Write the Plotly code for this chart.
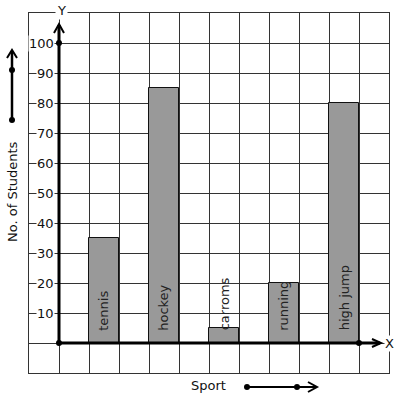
import plotly.graph_objects as go

sports = ["tennis", "hockey", "carroms", "running", "high jump"]
students = [35, 85, 5, 20, 80]
y_ticks = [10, 20, 30, 40, 50, 60, 70, 80, 90, 100]

FONT = "DejaVu Sans"
W, H = 397, 399
L, R, T, B = 29, 8, 13, 26
PW, PH = W - L - R, H - T - B


def px(x):
    return (x - L) / PW


def py(y):
    return (H - B - y) / PH


xpos = [1.5 + 2 * i for i in range(len(sports))]

fig = go.Figure()
fig.add_trace(go.Bar(
    x=xpos, y=students, width=1,
    marker=dict(color="#999999", line=dict(color="#111111", width=1)),
    hoverinfo="skip", showlegend=False,
))

ann = []
for x, s in zip(xpos, sports):
    ann.append(dict(x=x, y=3.4, xref="x", yref="y", text=s, showarrow=False,
                    textangle=-90, xanchor="center", yanchor="bottom",
                    font=dict(family=FONT, size=13, color="#222222")))
for v in y_ticks:
    ann.append(dict(x=0, y=v, xref="x", yref="y", text=str(v), showarrow=False,
                    xanchor="right", yanchor="middle", xshift=-4,
                    bgcolor="white", borderpad=0,
                    font=dict(family=FONT, size=13, color="#111111")))
ann.append(dict(x=px(61), y=py(10), xref="paper", yref="paper", text="Y",
                showarrow=False, bgcolor="white", borderpad=1,
                xanchor="center", yanchor="middle",
                font=dict(family=FONT, size=13, color="#111111")))
ann.append(dict(x=px(389), y=0, xref="paper", yref="y", text="X",
                showarrow=False, bgcolor="white", borderpad=0,
                xanchor="center", yanchor="middle",
                font=dict(family=FONT, size=13, color="#111111")))
ann.append(dict(x=px(12), y=py(192), xref="paper", yref="paper", text="No. of Students",
                showarrow=False, textangle=-90, xanchor="center", yanchor="middle",
                font=dict(family=FONT, size=13, color="#111111")))
ann.append(dict(x=px(208), y=py(385), xref="paper", yref="paper", text="Sport",
                showarrow=False, xanchor="center", yanchor="middle",
                font=dict(family=FONT, size=13, color="#111111")))

shapes = []
blk = dict(color="black", width=3)
shapes.append(dict(type="line", xref="x", yref="y", x0=0, y0=0, x1=0, y1=106, line=blk))
shapes.append(dict(type="line", xref="x", yref="y", x0=0, y0=0, x1=10.7, y1=0, line=blk))


def chevron_up(x, ytip, dx=6, dy=9, w=2):
    return dict(type="path", xref="paper", yref="paper",
                path=f"M {px(x-dx)},{py(ytip+dy)} L {px(x)},{py(ytip)} L {px(x+dx)},{py(ytip+dy)}",
                line=dict(color="black", width=w))


def chevron_right(xtip, y, dx=9, dy=5, w=2):
    return dict(type="path", xref="paper", yref="paper",
                path=f"M {px(xtip-dx)},{py(y-dy)} L {px(xtip)},{py(y)} L {px(xtip-dx)},{py(y+dy)}",
                line=dict(color="black", width=w))


def dot(x, y, r=3):
    return dict(type="circle", xref="paper", yref="paper",
                x0=px(x - r), x1=px(x + r), y0=py(y + r), y1=py(y - r),
                fillcolor="black", line=dict(color="black", width=0))


shapes.append(chevron_up(59, 24, dx=5, dy=9))
shapes.append(chevron_right(381, 343, dx=9, dy=4))
shapes.append(dot(59, 343))
shapes.append(dot(59, 43))
shapes.append(dot(359, 343))
shapes.append(dict(type="line", xref="paper", yref="paper", x0=px(12), x1=px(12),
                   y0=py(120), y1=py(51), line=dict(color="black", width=2.5)))
shapes.append(chevron_up(12, 50, dx=5, dy=8))
shapes.append(dot(12, 120))
shapes.append(dot(12, 70))
shapes.append(dict(type="line", xref="paper", yref="paper", x0=px(247), x1=px(316),
                   y0=py(387), y1=py(387), line=dict(color="black", width=2)))
shapes.append(chevron_right(317, 387, dx=9, dy=5))
shapes.append(dot(247, 387))
shapes.append(dot(297, 387))

fig.update_layout(
    width=W, height=H, autosize=False,
    margin=dict(l=L, r=R, t=T, b=B, pad=0),
    paper_bgcolor="white", plot_bgcolor="white",
    xaxis=dict(range=[-1, 11], dtick=1, tick0=0, showgrid=True, gridcolor="#333333",
               gridwidth=1, showticklabels=False, zeroline=False, showline=True,
               linecolor="#333333", linewidth=1, mirror=True, ticks="", fixedrange=True),
    yaxis=dict(range=[-10, 110], dtick=10, tick0=0, showgrid=True, gridcolor="#333333",
               gridwidth=1, showticklabels=False, zeroline=False, showline=True,
               linecolor="#333333", linewidth=1, mirror=True, ticks="", fixedrange=True),
    annotations=ann, shapes=shapes, bargap=0,
)

fig.write_html("out.html", config={"displayModeBar": False},
               post_script="document.body.style.margin='0';document.body.style.overflow='hidden';")
